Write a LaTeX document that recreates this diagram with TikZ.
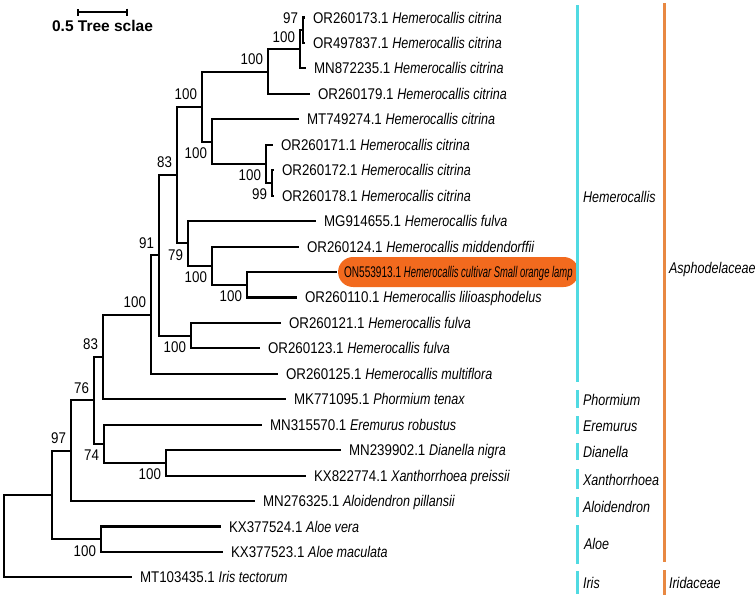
\documentclass[tikz,border=0pt]{standalone}
\usepackage{fontspec}
\setmainfont{Liberation Sans}
\newfontfamily\idfont{Liberation Sans}[FakeStretch=0.86]
\newfontfamily\taxfont{Liberation Sans}[FakeStretch=0.81]
\newfontfamily\hlidfont{Liberation Sans}[FakeStretch=0.65]
\newfontfamily\hltaxfont{Liberation Sans}[FakeStretch=0.61]
\usetikzlibrary{arrows.meta}
\definecolor{genuscyan}{RGB}{80,218,226}
\definecolor{familyorange}{RGB}{232,136,66}
\definecolor{lampfill}{RGB}{242,106,30}
\newcommand{\spname}[1]{{\taxfont\itshape #1}}

\begin{document}
\begin{tikzpicture}
  [x=1pt, y=-1pt, line width=2.1pt, font=\fontsize{15.5}{18}\selectfont]
  \tikzset{leaf/.style={anchor=west, inner xsep=7pt, inner ysep=0pt, text height=11pt, text depth=0pt, font=\fontsize{15.5}{18}\selectfont\idfont}}
  \tikzset{lamp/.style={anchor=west, fill=lampfill, rounded corners=15pt, minimum height=30pt, inner xsep=6pt, inner ysep=0pt, text height=11pt, text depth=0pt, font=\fontsize{15.5}{18}\selectfont\hlidfont}}
  \tikzset{boot/.style={inner sep=0pt, text height=11pt, text depth=0pt, font=\fontsize{15.5}{18}\selectfont\idfont}}
  \tikzset{bsup/.style={boot, anchor=south east, xshift=-4pt, yshift=6pt}}
  \tikzset{bsdown/.style={boot, anchor=north east, xshift=-4pt, yshift=-5pt}}
  \tikzset{clade/.style={anchor=west, inner sep=0pt, text height=11pt, text depth=0pt, font=\fontsize{15.5}{18}\selectfont\taxfont\itshape}}
  \tikzset{genusbar/.style={genuscyan, line width=3pt}}
  \tikzset{familybar/.style={familyorange, line width=3pt}}

  \useasboundingbox (0,0) rectangle (755,600);

  % scale
  \coordinate (SB1) at (77,12);
  \coordinate (SB2) at (128,12);
  \draw[line width=1.7pt, {Bar[width=7pt]}-{Bar[width=7pt]}] (SB1) -- (SB2);
  \node[inner sep=0pt, font=\fontsize{15.5}{18}\selectfont\bfseries] (SL) at (102.5,26) {0.5 Tree sclae};

  % leaves
  \node[leaf] (CT1) at (305,17.5) {OR260173.1 \spname{Hemerocallis citrina}};
  \node[leaf] (CT2) at (305,42.95) {OR497837.1 \spname{Hemerocallis citrina}};
  \node[leaf] (CT3) at (306,68.4) {MN872235.1 \spname{Hemerocallis citrina}};
  \node[leaf] (CT4) at (310,93.85) {OR260179.1 \spname{Hemerocallis citrina}};
  \node[leaf] (CT5) at (299,119.3) {MT749274.1 \spname{Hemerocallis citrina}};
  \node[leaf] (CT6) at (273,144.75) {OR260171.1 \spname{Hemerocallis citrina}};
  \node[leaf] (CT7) at (274,170.2) {OR260172.1 \spname{Hemerocallis citrina}};
  \node[leaf] (CT8) at (274,195.65) {OR260178.1 \spname{Hemerocallis citrina}};
  \node[leaf] (FV1) at (316,221.1) {MG914655.1 \spname{Hemerocallis fulva}};
  \node[leaf] (MD) at (299,246.55) {OR260124.1 \spname{Hemerocallis middendorffii}};
  \node[lamp] (SO) at (337,272) {ON553913.1 {\hltaxfont\itshape Hemerocallis cultivar Small orange lamp}};
  \node[leaf] (LI) at (297,297.45) {OR260110.1 \spname{Hemerocallis lilioasphodelus}};
  \node[leaf] (FV2) at (281,322.9) {OR260121.1 \spname{Hemerocallis fulva}};
  \node[leaf] (FV3) at (260,348.35) {OR260123.1 \spname{Hemerocallis fulva}};
  \node[leaf] (MU) at (278,373.8) {OR260125.1 \spname{Hemerocallis multiflora}};
  \node[leaf] (PH) at (286,399.25) {MK771095.1 \spname{Phormium tenax}};
  \node[leaf] (ER) at (262,424.7) {MN315570.1 \spname{Eremurus robustus}};
  \node[leaf] (DI) at (341,450.15) {MN239902.1 \spname{Dianella nigra}};
  \node[leaf] (XA) at (306,475.6) {KX822774.1 \spname{Xanthorrhoea preissii}};
  \node[leaf] (AD) at (255,501.05) {MN276325.1 \spname{Aloidendron pillansii}};
  \node[leaf] (AV) at (221,526.5) {KX377524.1 \spname{Aloe vera}};
  \node[leaf] (AM) at (223,551.95) {KX377523.1 \spname{Aloe maculata}};
  \node[leaf] (IR) at (132,577.4) {MT103435.1 \spname{Iris tectorum}};

  % inner nodes
  \coordinate (N1) at (303,30.2);
  \coordinate (N2) at (300,49.3);
  \coordinate (N3) at (268,71.6);
  \coordinate (N4) at (272,182.9);
  \coordinate (N5) at (266,163.8);
  \coordinate (N6) at (212,141.6);
  \coordinate (N7) at (202,106.6);
  \coordinate (N8) at (247,284.7);
  \coordinate (N9) at (212,265.6);
  \coordinate (N10) at (188,243.4);
  \coordinate (N11) at (177,175);
  \coordinate (N12) at (191,335.6);
  \coordinate (N13) at (159,255.3);
  \coordinate (N14) at (151,314.6);
  \coordinate (N15) at (103,356.9);
  \coordinate (N16) at (166,462.9);
  \coordinate (N17) at (104,443.8);
  \coordinate (N18) at (94,400.4);
  \coordinate (N19) at (71,450.7);
  \coordinate (N20) at (101,539.2);
  \coordinate (N21) at (52,495);
  \coordinate (RT) at (4,536.2);

  % bootstrap values
  \node[bsup] (B1) at (N1) {97};
  \node[bsup] (B2) at (N2) {100};
  \node[bsup] (B3) at (N3) {100};
  \node[bsdown] (B4) at (N4) {99};
  \node[bsdown] (B5) at (N5) {100};
  \node[bsdown] (B6) at (N6) {100};
  \node[bsup] (B7) at (N7) {100};
  \node[bsdown] (B8) at (N8) {100};
  \node[bsdown] (B9) at (N9) {100};
  \node[bsdown] (B10) at (N10) {79};
  \node[bsup] (B11) at (N11) {83};
  \node[bsdown] (B12) at (N12) {100};
  \node[bsup] (B13) at (N13) {91};
  \node[bsup] (B14) at (N14) {100};
  \node[bsup] (B15) at (N15) {83};
  \node[bsdown] (B16) at (N16) {100};
  \node[bsdown] (B17) at (N17) {74};
  \node[bsup] (B18) at (N18) {76};
  \node[bsup] (B19) at (N19) {97};
  \node[bsdown] (B20) at (N20) {100};

  % citrina
  \draw (N1) |- (CT1.west);
  \draw (N1) |- (CT2.west);
  \draw (N2) |- (N1);
  \draw (N2) |- (CT3.west);
  \draw (N3) |- (N2);
  \draw (N3) |- (CT4.west);
    \draw (N4) |- (CT7.west);
    \draw (N4) |- (CT8.west);
    \draw (N5) |- (CT6.west);
    \draw (N5) |- (N4);
    \draw (N6) |- (CT5.west);
    \draw (N6) |- (N5);
  \draw (N7) |- (N3);
  \draw (N7) |- (N6);

  % fulva, middendorffii, lamp
  \draw (N8) |- (SO.west);
  \draw (N8) |- (LI.west);
  \draw (N9) |- (MD.west);
  \draw (N9) |- (N8);
  \draw (N10) |- (FV1.west);
  \draw (N10) |- (N9);
  \draw (N11) |- (N7);
  \draw (N11) |- (N10);
    \draw (N12) |- (FV2.west);
    \draw (N12) |- (FV3.west);
  \draw (N13) |- (N11);
  \draw (N13) |- (N12);
  \draw (N14) |- (N13);
  \draw (N14) |- (MU.west);

  % Asphodelaceae
  \draw (N15) |- (N14);
  \draw (N15) |- (PH.west);
    \draw (N16) |- (DI.west);
    \draw (N16) |- (XA.west);
    \draw (N17) |- (ER.west);
    \draw (N17) |- (N16);
  \draw (N18) |- (N15);
  \draw (N18) |- (N17);
  \draw (N19) |- (N18);
  \draw (N19) |- (AD.west);
    \draw (N20) |- (AV.west);
    \draw (N20) |- (AM.west);
  \draw (N21) |- (N19);
  \draw (N21) |- (N20);

  % root
  \draw (RT) |- (N21);
  \draw (RT) |- (IR.west);

  % genera
  \draw[genusbar] (577,5) -- (577,382);
  \node[clade] (HEM) at (582,197) {Hemerocallis};
  \draw[genusbar] (577,390) -- (577,408);
  \node[clade] (PHO) at (582,400) {Phormium};
  \draw[genusbar] (577,416) -- (577,434);
  \node[clade] (ERE) at (582,426) {Eremurus};
  \draw[genusbar] (577,443) -- (577,460);
  \node[clade] (DIA) at (582,452) {Dianella};
  \draw[genusbar] (577,469) -- (577,489);
  \node[clade] (XAN) at (582,480) {Xanthorrhoea};
  \draw[genusbar] (577,497) -- (577,517);
  \node[clade] (ALD) at (582,507) {Aloidendron};
  \draw[genusbar] (577,525) -- (577,564);
  \node[clade] (ALO) at (583,544) {Aloe};
  \draw[genusbar] (577,571) -- (577,594);
  \node[clade] (IRI) at (582,583) {Iris};

  % families
  \draw[familybar] (664,3) -- (664,562);
  \node[clade] (ASP) at (668,268) {Asphodelaceae};
  \draw[familybar] (664,570) -- (664,595);
  \node[clade] (IRD) at (668,583) {Iridaceae};
\end{tikzpicture}
\end{document}
